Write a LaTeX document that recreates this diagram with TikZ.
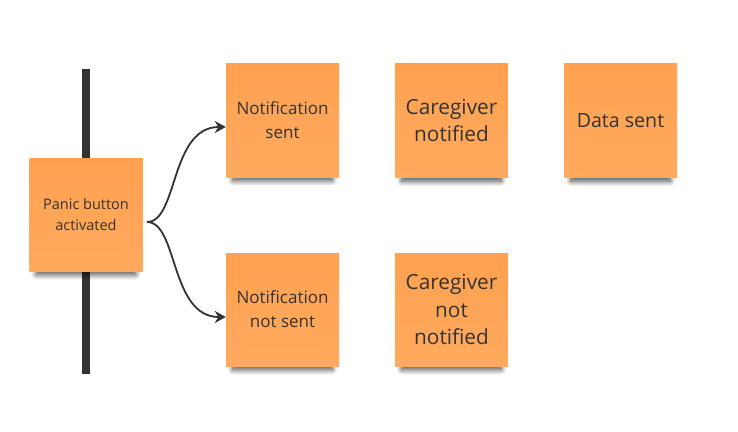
\documentclass[tikz,border=0pt]{standalone}
\usepackage{fontspec}
\setmainfont{Open Sans}
\usetikzlibrary{arrows.meta,shadows.blur}
\definecolor{sticky}{RGB}{255,161,80}
\definecolor{stickylight}{RGB}{255,170,95}
\definecolor{ink}{RGB}{51,51,51}
\tikzset{
  note/.style={rectangle, minimum width=113pt, minimum height=114pt, inner sep=2pt,
    top color=sticky, bottom color=stickylight, draw=none, align=center, text=ink,
    blur shadow={shadow xshift=0pt, shadow yshift=-12pt, shadow scale=0.88,
      shadow opacity=70, shadow blur radius=6pt, shadow blur steps=12}},
  flow/.style={-{Stealth[length=11pt,width=12pt,inset=3.5pt]}, line width=1.8pt, draw=ink}
}
\begin{document}
\begin{tikzpicture}[x=1pt,y=-1pt]
  \useasboundingbox (0,0) rectangle (738,431);
  %% timeline bar
  \coordinate (bartop) at (86,69);
  \coordinate (barbot) at (86,374);
  \draw[line width=8pt, ink] (bartop) -- (barbot);

  \node[note, minimum height=113pt, font=\fontsize{14.5}{21}\selectfont] (panic) at (86,214.5) {Panic button\\activated};

  \node[note, font=\fontsize{17}{24}\selectfont] (nsent) at (282.5,120) {Notification\\sent};
  \node[note, font=\fontsize{20.8}{27.5}\selectfont] (cnotified) at (451.5,120.5) {Caregiver\\notified};
  \node[note, font=\fontsize{19.6}{26}\selectfont] (dsent) at (620.5,120.5) {Data sent};

  \node[note, minimum height=113pt, font=\fontsize{17}{24}\selectfont] (nnotsent) at (282.5,309.5) {Notification\\not sent};
  \node[note, minimum height=113pt, font=\fontsize{20.8}{27.5}\selectfont] (cnotnotified) at (451.5,309.5) {Caregiver\\not\\notified};

  %% branching
  \coordinate (fork) at (147,222);
  \draw[flow] (fork) .. controls (178,222) and (170,127) .. (nsent.west |- 0,127);
  \draw[flow] (fork) .. controls (178,222) and (170,317) .. (nnotsent.west |- 0,317);
\end{tikzpicture}
\end{document}
